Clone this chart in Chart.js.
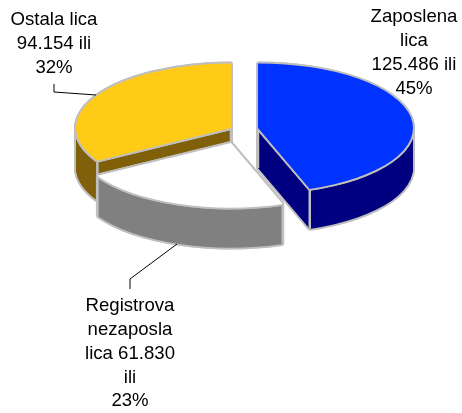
<!DOCTYPE html>
<html><head><meta charset="utf-8">
<style>html,body{margin:0;padding:0;background:#fff}canvas{display:block}</style>
<script src="https://cdn.jsdelivr.net/npm/chart.js@4"></script>
</head><body><canvas id="c" width="462" height="413"></canvas>
<script>
const categories = ['Zaposlena lica', 'Registrova nezaposla lica', 'Ostala lica'];
const values = [125486, 61830, 94154];
const topColors = ['#0033ff', '#ffffff', '#ffcb16'];
const wallColors = ['#000080', '#808080', '#80600a'];
const labelLines = [
  ['Zaposlena', 'lica', '125.486 ili', '45%'],
  ['Registrova', 'nezaposla', 'lica 61.830', 'ili', '23%'],
  ['Ostala lica', '94.154 ili', '32%']
];
const OUT = '#bfbfbf', S = 65 / 156, DEPTH = 40, W = 2;
const centers = [[258, 128], [231, 143], [231, 128]];
const labelPos = [[414, 17], [130, 306], [54, 20]];
const leaders = [null, [[130, 289], [130, 279], [177, 244]], [[54, 84], [54, 92], [96, 95]]];
const pie3d = {
  id: 'pie3d',
  beforeDatasetDraw(chart, args) {
    const ctx = chart.ctx, arcs = chart.getDatasetMeta(0).data;
    const paint = (arc, i, color, ox, oy) => {
      const o = arc.options;
      arc.options = Object.assign({}, o, {backgroundColor: color, borderWidth: 0});
      ctx.save();
      ctx.translate(centers[i][0] + ox, centers[i][1] + oy);
      ctx.scale(1, S);
      ctx.translate(-arc.x, -arc.y);
      arc.draw(ctx);
      ctx.restore();
      arc.options = o;
    };
    const ring = (arc, i, color, oy) => {
      for (let k = 0; k < 10; k++) {
        const a = k * Math.PI / 5;
        paint(arc, i, color, W * Math.cos(a), oy + W * Math.sin(a));
      }
    };
    [2, 1, 0].forEach(i => {
      const arc = arcs[i];
      for (let d = DEPTH; d > 0; d -= 2) ring(arc, i, OUT, d);
      for (let d = DEPTH; d > 0; d--) paint(arc, i, wallColors[i], 0, d);
      ctx.strokeStyle = OUT; ctx.lineWidth = 2.5;
      [[arc.startAngle, arc.outerRadius], [arc.endAngle, arc.outerRadius], [0, 0]].forEach(([a, r]) => {
        const x = centers[i][0] + r * Math.cos(a), y = centers[i][1] + r * Math.sin(a) * S;
        ctx.beginPath(); ctx.moveTo(x, y); ctx.lineTo(x, y + DEPTH); ctx.stroke();
      });
      ring(arc, i, OUT, 0);
      paint(arc, i, topColors[i], 0, 0);
    });
    return false;
  },
  afterDraw(chart) {
    const ctx = chart.ctx;
    ctx.save();
    ctx.strokeStyle = '#000'; ctx.lineWidth = 1;
    leaders.forEach(l => {
      if (!l) return;
      ctx.beginPath();
      l.forEach((p, k) => k ? ctx.lineTo(p[0], p[1]) : ctx.moveTo(p[0], p[1]));
      ctx.stroke();
    });
    ctx.fillStyle = '#000';
    ctx.font = '18.6px "Liberation Sans"';
    ctx.textAlign = 'center'; ctx.textBaseline = 'middle';
    labelLines.forEach((lines, i) => lines.forEach((t, k) =>
      ctx.fillText(t, labelPos[i][0], labelPos[i][1] + k * 23.8)));
    ctx.restore();
  }
};
new Chart(document.getElementById('c'), {
  type: 'pie',
  data: {labels: categories, datasets: [{data: values, backgroundColor: topColors, borderWidth: 0}]},
  options: {
    responsive: false, animation: false, radius: 155,
    events: [],
    plugins: {legend: {display: false}, tooltip: {enabled: false}}
  },
  plugins: [pie3d]
});
</script></body></html>
